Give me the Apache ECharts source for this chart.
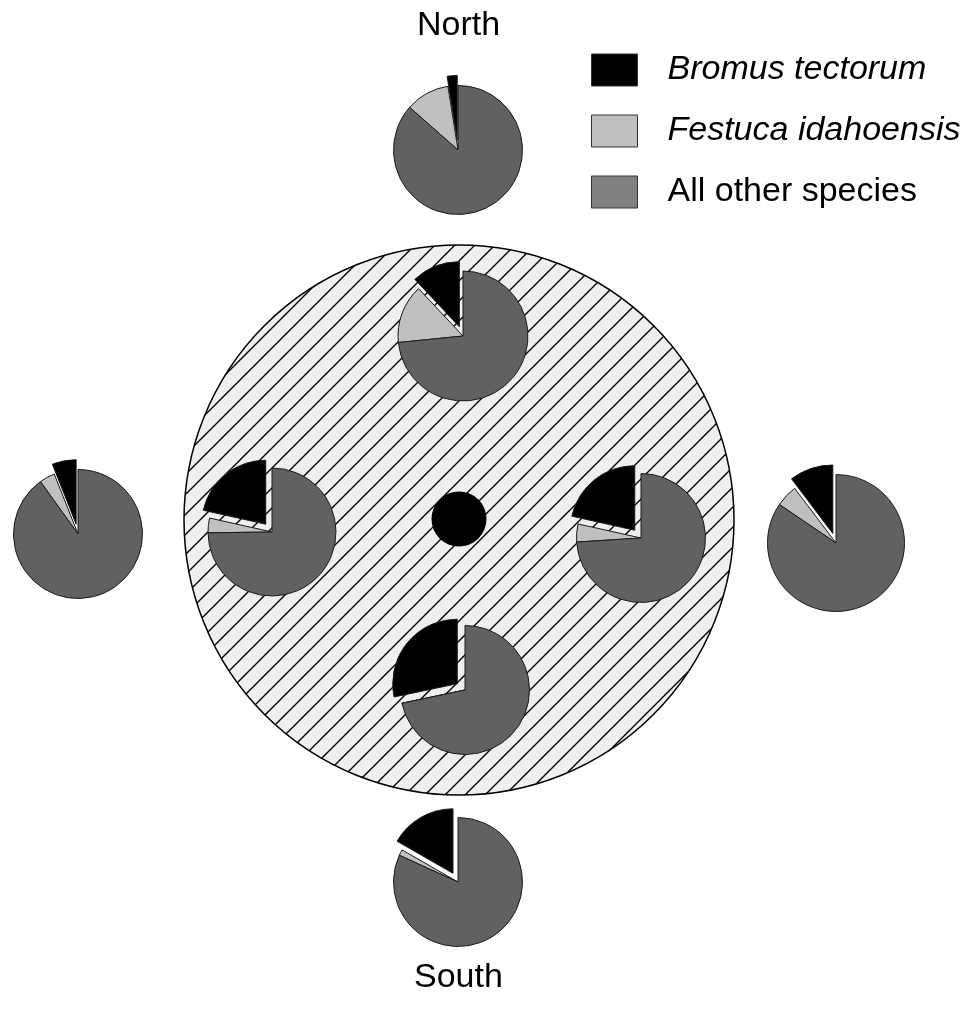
<!DOCTYPE html>
<html>
<head>
<meta charset="utf-8">
<style>
  html, body { margin: 0; padding: 0; background: #fff; }
  #chart { width: 964px; height: 1013px; }
</style>
<script src="https://cdn.jsdelivr.net/npm/echarts@6/dist/echarts.min.js"></script>
</head>
<body>
<div id="chart"></div>
<script>
// cover (%) per plot
const plots = ['North outer', 'North inner', 'West outer', 'West inner', 'East inner', 'East outer', 'South inner', 'South outer']
const bromus = [2.5, 12, 6, 21.5, 21.5, 10.3, 28.3, 16.7]
const festuca = [11, 14.6, 3.9, 3.7, 4.5, 5.2, 0, 1.5]
const others = [86.5, 73.4, 90.1, 74.8, 74, 84.5, 71.7, 81.8]
const speciesNames = ['Bromus tectorum', 'Festuca idahoensis', 'All other species']

// where each small pie sits on the page
const centers = [[458, 150], [463, 336], [78, 534], [272, 532], [641, 538], [836, 543], [465, 690], [458, 882]]
const radii = [64.5, 65, 64.5, 64, 64.5, 68.5, 64.5, 64.5]

const FONT = '"Liberation Sans", Arial, Helvetica, sans-serif'
const sliceColors = ['#000000', '#c0c0c0', '#616161']
const legendColors = ['#000000', '#c0c0c0', '#808080']

// diagonal hatch tile for the plot area
function hatchTile() {
  const c = document.createElement('canvas')
  c.width = 20
  c.height = 20
  const ctx = c.getContext('2d')
  ctx.fillStyle = '#efefef'
  ctx.fillRect(0, 0, 20, 20)
  ctx.strokeStyle = '#000'
  ctx.lineWidth = 1.4
  ctx.beginPath()
  ctx.moveTo(-2, 22); ctx.lineTo(22, -2)
  ctx.moveTo(-2, 2); ctx.lineTo(2, -2)
  ctx.moveTo(18, 22); ctx.lineTo(22, 18)
  ctx.stroke()
  return c
}

const chart = echarts.init(document.getElementById('chart'))

const plotSeries = plots.map((p, i) => ({
  type: 'pie',
  name: p,
  center: centers[i],
  radius: [0, radii[i]],
  startAngle: 90,
  clockwise: false,
  silent: true,
  selectedMode: 'multiple',
  selectedOffset: 10,
  avoidLabelOverlap: false,
  label: { show: false },
  labelLine: { show: false },
  emphasis: { disabled: true },
  itemStyle: { borderColor: '#1a1a1a', borderWidth: 1 },
  data: [
    { name: speciesNames[0], value: bromus[i], selected: true, itemStyle: { color: sliceColors[0] } },
    { name: speciesNames[1], value: festuca[i], itemStyle: { color: sliceColors[1] } },
    { name: speciesNames[2], value: others[i], itemStyle: { color: sliceColors[2] } }
  ]
}))

chart.setOption({
  animation: false,
  title: [
    { text: 'North', left: 417, top: 9, padding: 0, textStyle: { fontFamily: FONT, fontSize: 34, fontWeight: 'normal', color: '#000' } },
    { text: 'South', left: 414, top: 961, padding: 0, textStyle: { fontFamily: FONT, fontSize: 34, fontWeight: 'normal', color: '#000' } }
  ],
  legend: {
    orient: 'vertical',
    left: 591,
    top: 53,
    padding: 0,
    itemWidth: 46,
    itemHeight: 32,
    itemGap: 27,
    selectedMode: false,
    icon: 'rect',
    itemStyle: { borderColor: '#333', borderWidth: 1 },
    textStyle: { fontFamily: FONT, fontSize: 34, color: '#000', padding: [0, 0, 0, 25] },
    data: speciesNames.map((n, i) => ({
      name: n,
      itemStyle: { color: legendColors[i] },
      textStyle: { fontStyle: i < 2 ? 'italic' : 'normal' }
    }))
  },
  // hatched plot area and the centre marker
  graphic: [
    {
      type: 'circle',
      z: 0,
      silent: true,
      shape: { cx: 459, cy: 520, r: 275 },
      style: { fill: { image: hatchTile(), repeat: 'repeat' }, stroke: '#000', lineWidth: 1.5 }
    },
    {
      type: 'circle',
      z: 1,
      silent: true,
      shape: { cx: 459, cy: 519, r: 27.5 },
      style: { fill: '#000' }
    }
  ],
  series: plotSeries
})
</script>
</body>
</html>
